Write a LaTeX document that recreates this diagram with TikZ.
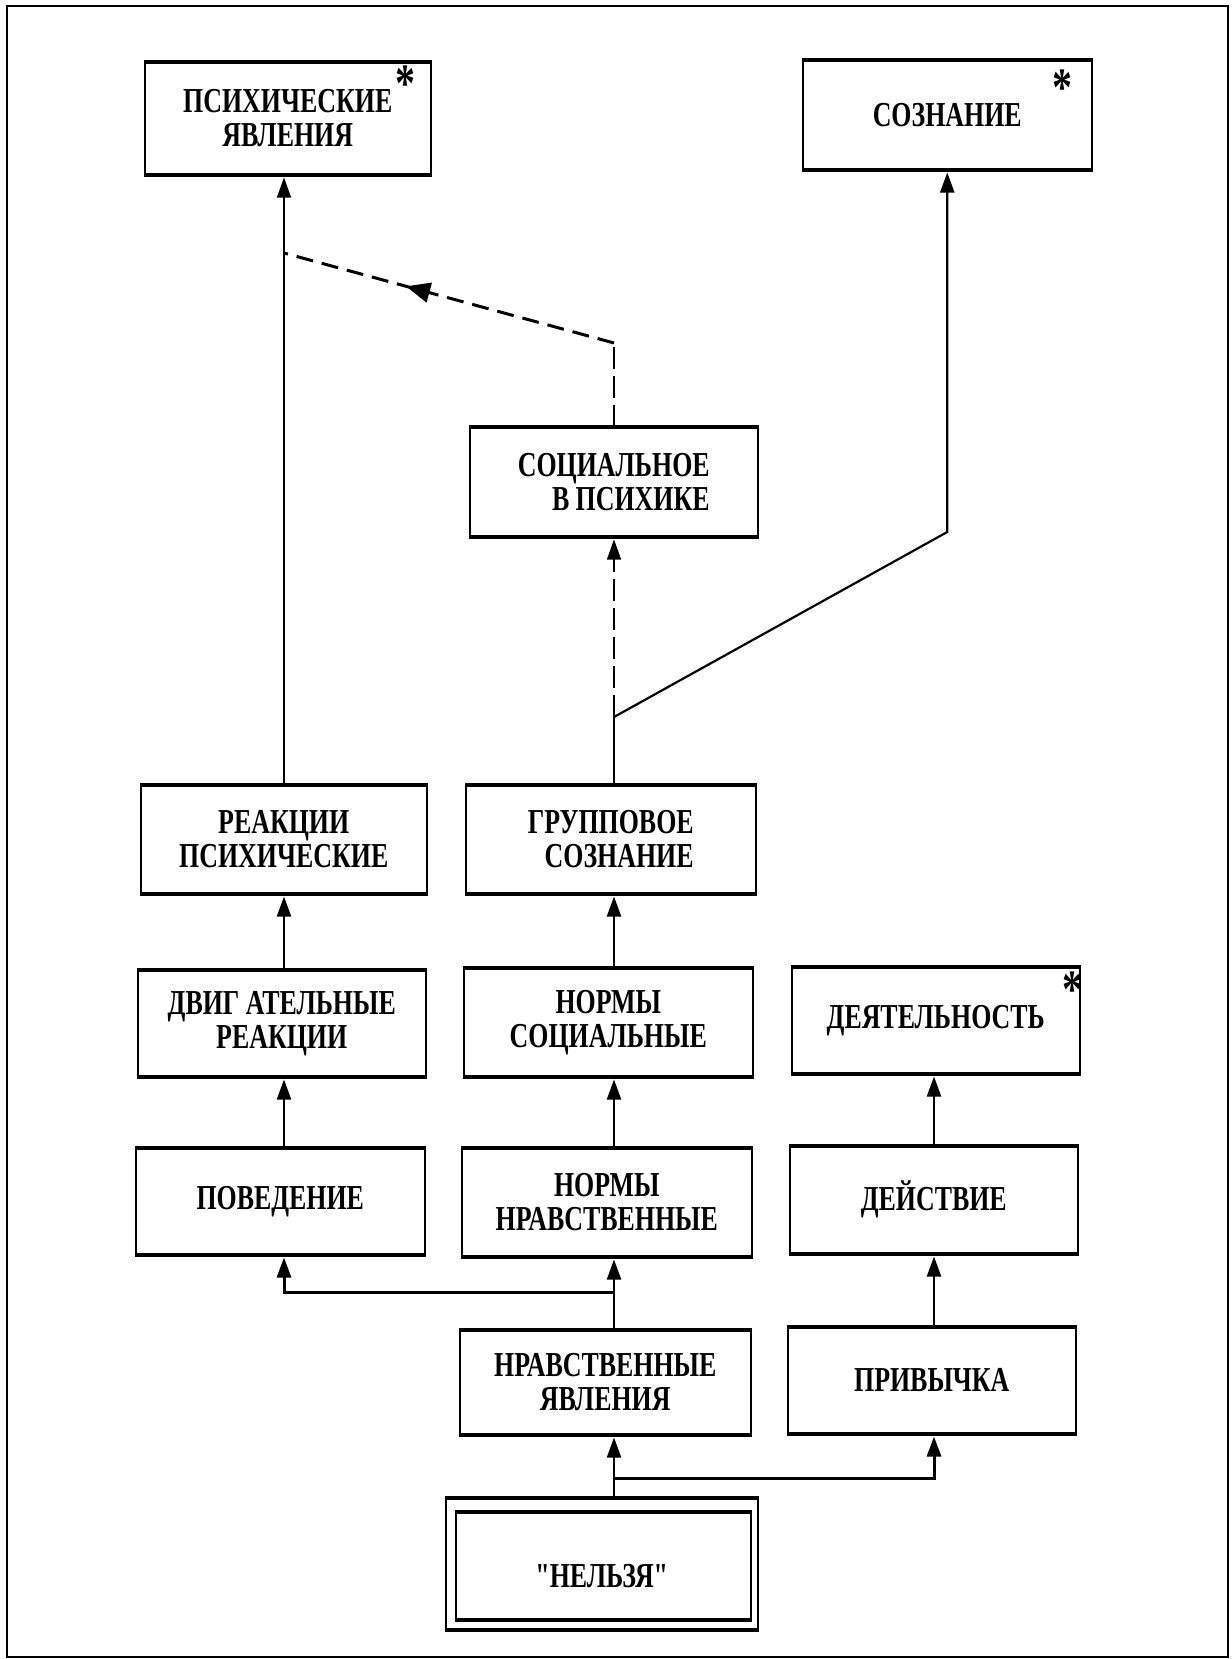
\documentclass[tikz,border=0pt]{standalone}
\usepackage{fontspec}
\newfontfamily\boxfont[FakeStretch=0.74]{Liberation Serif}
\usetikzlibrary{arrows.meta,decorations.markings,calc}
\tikzset{
  txt/.style={font=\boxfont\bfseries\fontsize{35}{34}\selectfont},
  box/.style={draw, line width=1.5pt, inner sep=0pt, anchor=north west, align=center, txt},
  thickedge/.style={line width=4pt},
  conn/.style={line width=2.2pt},
  thinconn/.style={line width=1.3pt},
  arr/.style={-{Triangle[length=20pt,width=14pt]}, shorten >=3pt},
  dsh/.style={dash pattern=on 22pt off 7pt},
  starmark/.style={font=\boxfont\bfseries\fontsize{54}{54}\selectfont, inner sep=0pt}
}
\newcommand\diabox[6]{%
  \node[box, minimum width={(#4-#2)*1pt}, minimum height={(#5-#3)*1pt}] (#1) at (#2,#3) {#6};
  \draw[thickedge] (#1.north west) -- (#1.north east) (#1.south west) -- (#1.south east);}
\begin{document}
\begin{tikzpicture}[x=1pt,y=-1pt]
\useasboundingbox (0,0) rectangle (1231,1659);
\fill[white] (0,0) rectangle (1231,1659);
\draw[line width=2.5pt] (7,6) rectangle (1228,1657);

\coordinate (leftx) at (284,0);
\coordinate (midx) at (614,0);
\coordinate (rightx) at (934,0);

\diabox{psy}{144}{62}{430}{173}{ПСИХИЧЕСКИЕ\\ЯВЛЕНИЯ}
\diabox{soz}{802}{60}{1091}{168}{СОЗНАНИЕ}
\diabox{soc}{469}{427}{757}{535}{СОЦИАЛЬНОЕ\\\hfill В ПСИХИКЕ}
\diabox{rea}{140}{785}{426}{892}{РЕАКЦИИ\\ПСИХИЧЕСКИЕ}
\diabox{grp}{465}{785}{755}{892}{ГРУППОВОЕ\\\hfill СОЗНАНИЕ}
\diabox{dvi}{137}{970}{425}{1075}{ДВИГ АТЕЛЬНЫЕ\\РЕАКЦИИ}
\diabox{nso}{463}{968}{752}{1075}{НОРМЫ\\СОЦИАЛЬНЫЕ}
\diabox{dea}{791}{967}{1079}{1072}{ДЕЯТЕЛЬНОСТЬ}
\diabox{pov}{135}{1148}{424}{1253}{ПОВЕДЕНИЕ}
\diabox{nnr}{461}{1148}{751}{1255}{НОРМЫ\\НРАВСТВЕННЫЕ}
\diabox{dei}{789}{1146}{1077}{1252}{ДЕЙСТВИЕ}
\diabox{nya}{459}{1330}{750}{1433}{НРАВСТВЕННЫЕ\\ЯВЛЕНИЯ}
\diabox{pri}{787}{1327}{1075}{1432}{ПРИВЫЧКА}
% double box
\diabox{nel}{445}{1498}{757}{1628}{}
\diabox{neli}{455}{1512}{750}{1618}{}
\node[txt, inner sep=0pt] (neltxt) at ([yshift=-12pt]nel.center) {"НЕЛЬЗЯ"};

% stars
\node[starmark] (st1) at (405,84) {*};
\node[starmark] (st2) at (1062,88) {*};
\node[starmark] (st3) at (1072,990) {*};

% connectors
\draw[thinconn,arr] (rea.north -| leftx) -- (psy.south -| leftx);
\path (soc.north -| midx) ++(0,-84) coordinate (dc);
\coordinate (de) at (leftx |- 0,253);
\draw[line width=1.5pt, dsh] (soc.north -| midx) -- (dc);
\draw[line width=3pt, dash pattern=on 17pt off 9pt, postaction={decorate},
  decoration={markings, mark=at position 0.63 with {\arrow{Triangle[length=24pt,width=20pt]}}}] (dc) -- (de);

\path (grp.north -| midx) ++(0,-68) coordinate (j);
\draw[conn] (grp.north -| midx) -- (j);
\draw[line width=1.5pt, dsh, arr] (j) -- (soc.south -| midx);
\draw[conn, arr] (j) -- (soz.south |- 0,532) -- (soz.south);

\draw[conn,arr] (dvi.north -| leftx) -- (rea.south -| leftx);
\draw[conn,arr] (nso.north -| midx) -- (grp.south -| midx);
\draw[conn,arr] (pov.north -| leftx) -- (dvi.south -| leftx);
\draw[conn,arr] (nnr.north -| midx) -- (nso.south -| midx);
\draw[conn,arr] (dei.north -| rightx) -- (dea.south -| rightx);

\coordinate (h1) at (midx |- 0,1292);
\draw[conn] (nya.north -| midx) -- (h1);
\draw[conn,arr] (h1) -- (nnr.south -| midx);
\draw[line width=3pt,arr] (h1) -| (pov.south -| leftx);
\draw[conn,arr] (pri.north -| rightx) -- (dei.south -| rightx);

\coordinate (h2) at (midx |- 0,1478);
\draw[conn] (nel.north -| midx) -- (h2);
\draw[conn,arr] (h2) -- (nya.south -| midx);
\draw[line width=3pt,arr] (h2) -| (pri.south -| rightx);
\end{tikzpicture}
\end{document}
